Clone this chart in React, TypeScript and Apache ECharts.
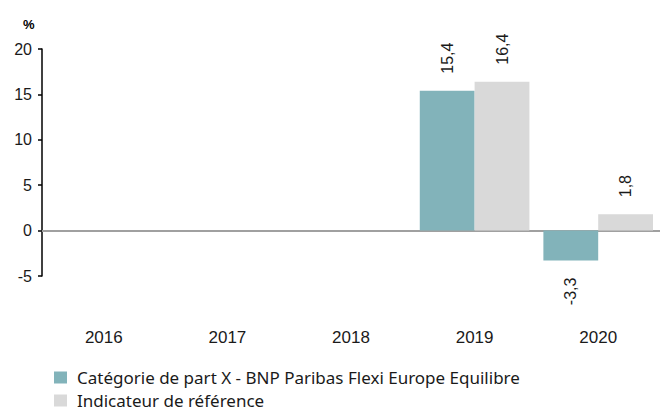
import React, { useEffect, useRef } from "react";
import * as echarts from "echarts";

const categories = ["2016", "2017", "2018", "2019", "2020"];
const fundValues: (number | null)[] = [null, null, null, 15.4, -3.3];
const benchValues: (number | null)[] = [null, null, null, 16.4, 1.8];
const fundName = "Catégorie de part X - BNP Paribas Flexi Europe Equilibre";
const benchName = "Indicateur de référence";
const yTicks = { min: -5, max: 20, interval: 5 };

const fmt = (v: number) => String(v).replace(".", ",");

function makeData(values: (number | null)[]) {
  return values.map((v) =>
    v === null
      ? null
      : {
          value: v,
          label: {
            show: true,
            position: v >= 0 ? "top" : "bottom",
            rotate: 90,
            align: v >= 0 ? "left" : "right",
            verticalAlign: "middle",
            distance: 17,
            formatter: () => fmt(v),
            fontFamily: "Liberation Sans",
            fontSize: 16,
            color: "#1a1a1a",
          },
        }
  );
}

export default function App() {
  const ref = useRef<HTMLDivElement>(null);
  useEffect(() => {
    if (!ref.current) return;
    const chart = echarts.init(ref.current, undefined, { renderer: "svg" });
    chart.setOption({
      animation: false,
      textStyle: { fontFamily: "Liberation Sans" },
      graphic: [
        {
          type: "text",
          left: 23,
          top: 18,
          style: { text: "%", fontSize: 13, fontWeight: "bold", fill: "#000", fontFamily: "Liberation Sans" },
        },
      ],
      legend: {
        orient: "vertical",
        left: 54,
        top: 369,
        padding: 0,
        itemWidth: 13,
        itemHeight: 12,
        itemGap: 6,
        icon: "rect",
        textStyle: {
          fontFamily: "Noto Sans",
          fontSize: 17,
          lineHeight: 17,
          color: "#1a1a1a",
          padding: [0, 0, 0, 5],
        },
        data: [fundName, benchName],
      },
      grid: { left: 42, width: 620, top: 49, bottom: 136 },
      xAxis: [
        {
          type: "category",
          data: categories,
          position: "bottom",
          axisLine: { show: false, onZero: false },
          axisTick: { show: false },
          axisLabel: { margin: 53, fontSize: 17, color: "#1a1a1a", fontFamily: "Liberation Sans" },
        },
        {
          type: "category",
          data: categories,
          position: "bottom",
          axisLine: { show: true, onZero: true, lineStyle: { color: "#a0a0a0", width: 2 } },
          axisTick: { show: false },
          axisLabel: { show: false },
        },
      ],
      yAxis: {
        type: "value",
        min: yTicks.min,
        max: yTicks.max,
        interval: yTicks.interval,
        axisLine: { show: true, lineStyle: { color: "#000", width: 1.5 } },
        axisTick: { show: true, inside: false, length: 4, lineStyle: { color: "#000", width: 1.5 } },
        splitLine: { show: false },
        axisLabel: { margin: 10, fontSize: 16, color: "#1a1a1a", fontFamily: "Liberation Sans" },
      },
      series: [
        {
          name: fundName,
          type: "bar",
          data: makeData(fundValues),
          itemStyle: { color: "#82B3BA" },
          barGap: "0%",
          barCategoryGap: "11.3%",
        },
        {
          name: benchName,
          type: "bar",
          data: makeData(benchValues),
          itemStyle: { color: "#D9D9D9" },
          barGap: "0%",
          barCategoryGap: "11.3%",
        },
      ],
    });
    return () => chart.dispose();
  }, []);
  return <div ref={ref} style={{ width: 660, height: 412, position: "absolute", left: 0, top: 0 }} />;
}
